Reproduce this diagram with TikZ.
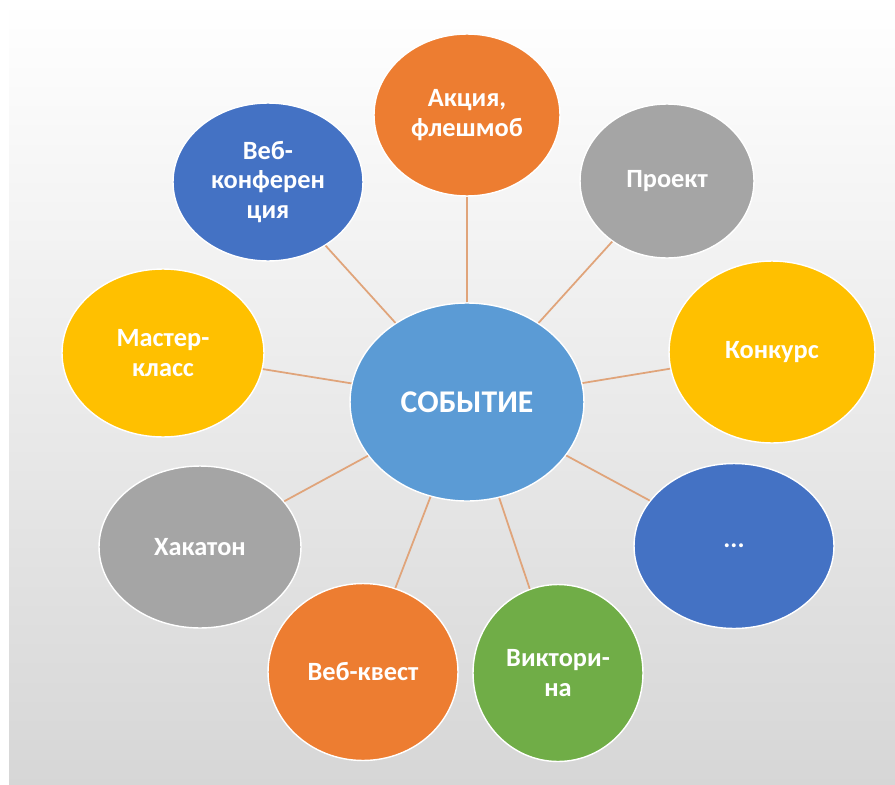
\documentclass[tikz,border=0pt]{standalone}
\usepackage{fontspec}
\setmainfont{Carlito}
\usepackage{xcolor}
\definecolor{eventblue}{RGB}{91, 155, 213}
\definecolor{deepblue}{RGB}{68, 114, 196}
\definecolor{accentorange}{RGB}{237, 125, 49}
\definecolor{accentgray}{RGB}{165, 165, 165}
\definecolor{accentyellow}{RGB}{255, 192, 0}
\definecolor{accentgreen}{RGB}{112, 173, 71}
\definecolor{linkbrown}{RGB}{224, 164, 122}
\usepackage{tikz}
\usetikzlibrary{
    shapes.geometric,
    positioning
}
\tikzstyle{format} = [
    ellipse,
    draw=white,
    line width=0.8pt,
    text=white,
    align=center,
    inner sep=0pt,
    font=\fontsize{15}{17}\selectfont\bfseries
]
\tikzstyle{link} = [
    draw=linkbrown,
    line width=1pt
]

\begin{document}
\begin{tikzpicture}[
    x=0.02cm, y=-0.02cm,
    event/.style={ellipse, draw=white, line width=0.8pt, fill=eventblue, text=white, minimum width=4.68cm, minimum height=3.96cm, font=\fontsize{18}{20}\selectfont\bfseries}
]
    % Background
    \useasboundingbox (0,0) rectangle (895,784);
    \fill[white] (0,0) rectangle (895,784);
    \shade[top color=white, middle color=black!3, bottom color=black!16] (9,0) rectangle (895,784);

    % Centre
    \node[event] (event) at (467,402) {СОБЫТИЕ};

    % Formats around
    \node[format, fill=accentorange, minimum width=3.72cm, minimum height=3.24cm] (action) at (467,115) {Акция,\\флешмоб};
    \node[format, fill=accentgray, minimum width=3.48cm, minimum height=3.08cm] (project) at (667,181) {Проект};
    \node[format, fill=accentyellow, minimum width=4.12cm, minimum height=3.64cm] (contest) at (772,352) {Конкурс};
    \node[format, fill=deepblue, minimum width=4.0cm, minimum height=3.3cm] (more) at (734,546) {...};
    \node[format, fill=accentgreen, minimum width=3.4cm, minimum height=3.54cm] (quiz) at (558,673) {Виктори-\\на};
    \node[format, fill=accentorange, minimum width=3.8cm, minimum height=3.54cm] (quest) at (363,672) {Веб-квест};
    \node[format, fill=accentgray, minimum width=4.04cm, minimum height=3.24cm] (hackathon) at (200,547) {Хакатон};
    \node[format, fill=accentyellow, minimum width=4.04cm, minimum height=3.36cm] (masterclass) at (163,353) {Мастер-\\класс};
    \node[format, fill=deepblue, minimum width=3.8cm, minimum height=3.16cm] (webconf) at (268,182) {Веб-\\конферен\\ция};

    % Links
    \draw[link] (event) -- (action);
    \draw[link] (event) -- (project);
    \draw[link] (event) -- (contest);
    \draw[link] (event) -- (more);
    \draw[link] (event) -- (quiz);
    \draw[link] (event) -- (quest);
    \draw[link] (event) -- (hackathon);
    \draw[link] (event) -- (masterclass);
    \draw[link] (event) -- (webconf);

\end{tikzpicture}
\end{document}
